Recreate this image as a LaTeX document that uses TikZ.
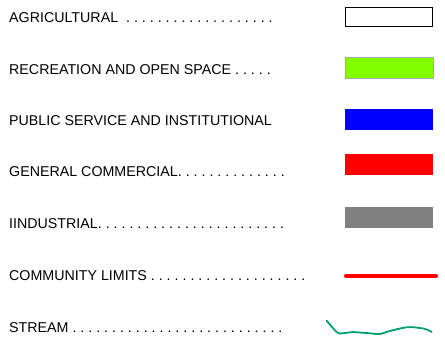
\documentclass[tikz,border=0pt]{standalone}
\usepackage{fontspec}
\setmainfont{Liberation Sans}
\definecolor{recgreen}{RGB}{128,255,0}
\definecolor{pubblue}{RGB}{0,0,255}
\definecolor{comred}{RGB}{255,0,0}
\definecolor{indgray}{RGB}{128,128,128}
\definecolor{streamgreen}{RGB}{0,160,110}
\begin{document}
\frenchspacing
\begin{tikzpicture}[x=1pt,y=-1pt,
  lbl/.style={anchor=base west,inner sep=0pt,font=\fontsize{14.25}{16}\selectfont\frenchspacing},
  swatch/.style={draw=gray!70,line width=0.6pt}]
\useasboundingbox (0,0) rectangle (445,343);
\node[lbl] (agr) at (9,22.5) {AGRICULTURAL \ . . . . .  . . . . .  . . . . .  . . . .};
\node[lbl] (rec) at (9,74) {RECREATION AND OPEN SPACE . . . . .};
\node[lbl] (pub) at (9,125.7) {PUBLIC SERVICE AND INSTITUTIONAL};
\node[lbl] (gen) at (9,176.7) {GENERAL COMMERCIAL. . . . .  . . . . .  . . . .};
\node[lbl] (ind) at (9,228) {IINDUSTRIAL. . . . .  . . . . .  . . . . .  . . . . .  . . . .};
\node[lbl] (com) at (9,280.7) {COMMUNITY LIMITS . . . . .  . . . . .  . . . . .  . . . . .};
\node[lbl] (str) at (9,332.3) {STREAM . . . . .  . . . . .  . . . . .  . . . . .  . . . . .  . .};
% swatches
\draw[black,line width=1.8pt,fill=white] (345.5,7.5) rectangle (432.5,26.5);
\draw[swatch,fill=recgreen] (345,57) rectangle (433,78);
\fill[pubblue] (345,109) rectangle (433,130);
\fill[comred] (345,154) rectangle (433,175);
\fill[indgray] (345,207) rectangle (433,228);
\draw[comred,line width=4pt,line cap=round] (346,275.7) -- (436,275.7);
\draw[streamgreen,line width=1.8pt,line join=round,line cap=round]
  plot[smooth,tension=0.6] coordinates {(326.7,320.7) (336.7,332) (342,333.3) (353,332) (357,332.3) (370,333.3) (380,334) (388,331.5) (406.7,327.3) (420,328) (426.7,329.5) (431.7,332)};
\end{tikzpicture}
\end{document}
